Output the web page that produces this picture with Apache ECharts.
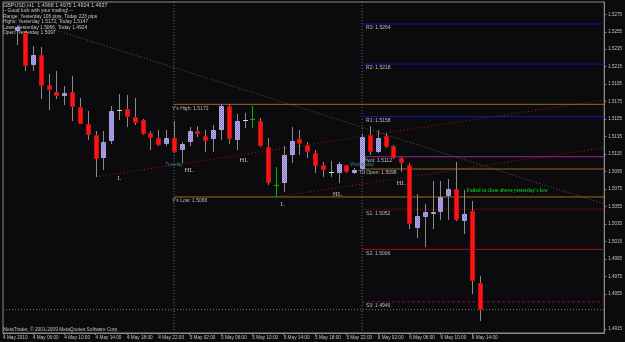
<!DOCTYPE html>
<html><head><meta charset="utf-8">
<script src="https://cdn.jsdelivr.net/npm/echarts@6/dist/echarts.min.js"></script>
<style>html,body{margin:0;padding:0;background:#0b0b0d;}#c{width:625px;height:342px;}</style>
</head><body><div id="c"></div>
<script>
// ---- DATA ----
const hours = [4,5,6,7,8,9,10,11,12,13,14,15,16,17,18,19,20,21,22,23,24,25,26,27,28,29,30,31,32,33,34,35,36,37,38,39,40,41,42,43,44,45,46,47,48,49,50,51,52,53,54,55,56,57,58,59,60,61,62,63];
const opens = [1.5256,1.5254,1.5217,1.5228,1.5194,1.5186,1.5182,1.5186,1.5169,1.5149,1.5137,1.5111,1.5130,1.5166,1.5167,1.5157,1.5154,1.5139,1.5133,1.5127,1.5134,1.5120,1.5129,1.5141,1.5136,1.5132,1.5143,1.5170,1.5131,1.5154,1.5155,1.5153,1.5123,1.5080,1.5082,1.5114,1.5132,1.5126,1.5116,1.5102,1.5095,1.5093,1.5102,1.5093,1.5098,1.5137,1.5117,1.5136,1.5124,1.5111,1.5103,1.5031,1.5043,1.5047,1.5049,1.5067,1.5075,1.5039,1.5050,1.4968];
const closes = [1.5260,1.5216,1.5228,1.5193,1.5188,1.5182,1.5185,1.5169,1.5150,1.5137,1.5110,1.5129,1.5164,1.5166,1.5157,1.5151,1.5138,1.5134,1.5126,1.5134,1.5117,1.5127,1.5141,1.5138,1.5130,1.5143,1.5170,1.5132,1.5153,1.5154,1.5155,1.5124,1.5082,1.5080,1.5114,1.5130,1.5127,1.5117,1.5101,1.5097,1.5095,1.5104,1.5094,1.5097,1.5135,1.5118,1.5134,1.5123,1.5111,1.5105,1.5035,1.5044,1.5049,1.5049,1.5066,1.5075,1.5040,1.5047,1.4970,1.4937];
const lows = [1.5240,1.5210,1.5210,1.5178,1.5166,1.5178,1.5171,1.5153,1.5149,1.5131,1.5089,1.5097,1.5127,1.5154,1.5146,1.5148,1.5137,1.5120,1.5124,1.5124,1.5116,1.5105,1.5124,1.5135,1.5117,1.5118,1.5131,1.5127,1.5120,1.5145,1.5145,1.5123,1.5080,1.5066,1.5072,1.5105,1.5114,1.5111,1.5093,1.5089,1.5089,1.5082,1.5093,1.5092,1.5096,1.5114,1.5116,1.5122,1.5110,1.5095,1.5029,1.5019,1.5009,1.5029,1.5040,1.5040,1.5039,1.5024,1.4955,1.4924];
const highs = [1.5262,1.5256,1.5239,1.5238,1.5207,1.5210,1.5193,1.5204,1.5179,1.5164,1.5141,1.5141,1.5170,1.5184,1.5183,1.5179,1.5155,1.5142,1.5143,1.5143,1.5153,1.5129,1.5146,1.5147,1.5143,1.5148,1.5172,1.5172,1.5161,1.5162,1.5170,1.5156,1.5133,1.5100,1.5124,1.5146,1.5143,1.5129,1.5120,1.5106,1.5107,1.5106,1.5103,1.5099,1.5138,1.5147,1.5143,1.5139,1.5125,1.5112,1.5105,1.5069,1.5058,1.5084,1.5084,1.5087,1.5106,1.5074,1.5061,1.4975];
const greenBars = [34, 37];

const xTickHours = [2.19,6,10,14,18,22,26,30,34,38,42,46,50,54,58,62];
const xTickLabels = ["4 May 2010","4 May 06:00","4 May 10:00","4 May 14:00","4 May 18:00","4 May 22:00","5 May 02:00","5 May 06:00","5 May 10:00","5 May 14:00","5 May 18:00","5 May 22:00","6 May 02:00","6 May 06:00","6 May 10:00","6 May 14:00"];
const yTickValues = [1.4915,1.4955,1.4975,1.4995,1.5015,1.5035,1.5055,1.5075,1.5095,1.5115,1.5135,1.5155,1.5175,1.5195,1.5215,1.5235,1.5255,1.5275];

const levelNames = ["Y's High","Y's Low","R3","R2","R1","Pivot","Td Open","S1","S2","S3"];
const levelValues = [1.5172,1.5066,1.5264,1.5218,1.5158,1.5112,1.5098,1.5052,1.5006,1.4946];
const levelStartHours = [24,24,48,48,48,48,48,48,48,48];

const separatorHours = [24, 48];
const currentPrice = 1.4937;

const trendStartHours = [8.9, 14, 37];
const trendStartPrices = [1.5257, 1.5089, 1.5066];
const trendEndHours = [78.89, 78.89, 78.89];
const trendEndPrices = [1.5058, 1.5177, 1.51225];

const markTexts = ["L","HL","HL","L","HL","HL"];
const markHours = [17.05,25.94,32.92,37.87,44.86,52.99];
const markPrices = [1.50877,1.50969,1.51083,1.50579,1.50694,1.50820];

const noteText = "Failed to close above yesterday's low";
const noteHour = 61.36, notePrice = 1.50732;

const dayNames = ["Tuesday","Wednesday"];
const dayLabelPrice = 1.51029;

const infoLines = ["GBPUSD,H1  1.4968 1.4975 1.4924 1.4937","-- Good luck with your trading! --","Range: Yesterday 106 pips, Today 223 pips","Highs: Yesterday 1.5172, Today 1.5147","Lows: Yesterday 1.5066, Today 1.4924","Open: Yesterday 1.5097"];

// ---- STYLE ----
const XMIN = 2.19, XMAX = 78.89, YMIN = 1.491035, YMAX = 1.528907;
const GRAY = '#c4c4c4';
const SANS = '"Liberation Sans", Arial, sans-serif';
const levelStyles = [
  {color:'#9a6a22', type:'solid', dx:-2},
  {color:'#9a6a22', type:'solid', dx:-2},
  {color:'#1414b4', type:'solid', dx:4},
  {color:'#1414b4', type:'solid', dx:4},
  {color:'#1414b4', type:'solid', dx:4},
  {color:'#a0209a', type:'solid', dx:1},
  {color:'#9a6a22', type:'solid', dx:-3},
  {color:'#8c0c0c', type:[1,1], dx:4},
  {color:'#a01010', type:'solid', dx:4},
  {color:'#80104a', type:[3,2], dx:4}
];
const trendStyles = [
  {color:'#5a5a5a', type:[1,2]},
  {color:'#b01414', type:[1,2.5]},
  {color:'#b01414', type:[1,2.5]}
];

const pc = document.createElement('canvas'); pc.width = 2; pc.height = 2;
const g = pc.getContext('2d');
g.fillStyle = '#8476d2'; g.fillRect(0,0,2,2);
g.fillStyle = '#bbb0f2'; g.fillRect(0,0,1,1); g.fillRect(1,1,1,1);

const candleData = hours.map((h,i)=>[h, opens[i], closes[i], lows[i], highs[i]]);

function renderCandle(params, api){
  const h = api.value(0), o = api.value(1), c = api.value(2), l = api.value(3), hi = api.value(4);
  const pO = api.coord([h,o]), pC = api.coord([h,c]), pL = api.coord([h,l]), pH = api.coord([h,hi]);
  const cx = Math.round(pO[0]);
  const isGreen = greenBars.indexOf(h) >= 0;
  const children = [];
  children.push({type:'line', shape:{x1:cx+0.5,y1:Math.round(pH[1]),x2:cx+0.5,y2:Math.round(pL[1])}, style:{stroke: isGreen?'#00b400':'#8a8a8a', lineWidth:1}});
  if (o === c) {
    const y = Math.round(pO[1]) + 0.5;
    children.push({type:'line', shape:{x1:cx-2,y1:y,x2:cx+3,y2:y}, style:{stroke: isGreen?'#00b400':'#d8d8d8', lineWidth:1}});
  } else {
    const top = Math.round(Math.min(pO[1], pC[1]));
    const bot = Math.round(Math.max(pO[1], pC[1]));
    const bear = c < o;
    children.push({type:'rect', shape:{x:cx-2+0.5, y:top+0.5, width:4, height:Math.max(bot-top-1,1)},
      style: bear ? {fill:'#ff1212', stroke:'#c01010', lineWidth:1} : {fill:{image:pc, repeat:'repeat'}, stroke:'#a8a0d8', lineWidth:1}});
  }
  return {type:'group', children};
}

const series = [];
// day separators
separatorHours.forEach(h=>{
  series.push({type:'line', data:[[h,YMIN],[h,YMAX]], symbol:'none', silent:true, z:1,
    lineStyle:{color:'#6c6c6c', width:1, type:[1,2]}});
});
// trend lines
trendStartHours.forEach((h,i)=>{
  series.push({type:'line', data:[[h,trendStartPrices[i]],[trendEndHours[i],trendEndPrices[i]]], symbol:'none', silent:true, z:2,
    lineStyle:{color:trendStyles[i].color, width:1, type:trendStyles[i].type}});
});
// level lines
levelValues.forEach((v,i)=>{
  series.push({type:'line', data:[[levelStartHours[i],v],[XMAX,v]], symbol:'none', silent:true, z:2,
    lineStyle:{color:levelStyles[i].color, width:1, type:levelStyles[i].type}});
});
// current price
series.push({type:'line', data:[[XMIN,currentPrice],[XMAX,currentPrice]], symbol:'none', silent:true, z:2,
  lineStyle:{color:'#7a7a7a', width:1, type:[1,2]},
  markLine:{symbol:'none', silent:true, lineStyle:{opacity:0}, data:[{yAxis:currentPrice}],
    label:{position:'end', distance:1, formatter:currentPrice.toFixed(4), backgroundColor:'#ffffff', color:'#000', fontSize:4.8, fontFamily:SANS, padding:[1,2,1,2]}}});
// candles
series.push({type:'custom', data:candleData, renderItem:renderCandle, encode:{x:0, y:[1,2,3,4]}, z:5, clip:false});
// level labels
series.push({type:'custom', z:6, data: levelValues.map((v,i)=>[levelStartHours[i], v, i]),
  renderItem:(p,api)=>{
    const i = api.value(2); const pt = api.coord([api.value(0), api.value(1)]);
    return {type:'text', x: pt[0] + levelStyles[i].dx, y: pt[1] + 1.5,
      style:{text: levelNames[i] + ': ' + levelValues[i].toFixed(4), fill:'#bdbdbd', font:'5px ' + SANS, align:'left', verticalAlign:'top'}};
  }});
// HL marks
series.push({type:'custom', z:6, data: markHours.map((h,i)=>[h, markPrices[i], i]),
  renderItem:(p,api)=>{
    const pt = api.coord([api.value(0), api.value(1)]);
    return {type:'text', x: pt[0], y: pt[1],
      style:{text: markTexts[api.value(2)], fill:'#b8b8b8', font:'7px "Liberation Serif", serif', align:'center', verticalAlign:'middle'}};
  }});
// day names
series.push({type:'custom', z:6, data: separatorHours.map((h,i)=>[h, dayLabelPrice, i]),
  renderItem:(p,api)=>{
    const pt = api.coord([api.value(0), api.value(1)]);
    return {type:'text', x: pt[0], y: pt[1],
      style:{text: dayNames[api.value(2)], fill:'#2f7f8f', font:'4.5px ' + SANS, align:'center', verticalAlign:'middle'}};
  }});
// note
series.push({type:'custom', z:6, data:[[noteHour, notePrice]],
  renderItem:(p,api)=>{
    const pt = api.coord([api.value(0), api.value(1)]);
    return {type:'text', x: pt[0], y: pt[1],
      style:{text: noteText, fill:'#10b010', font:'bold 5.2px "Liberation Serif", serif', align:'left', verticalAlign:'middle'}};
  }});

const graphics = infoLines.map((t,i)=>({type:'text', left:3, top: 3 + i*5.5,
  style:{text:t, fill:'#c8c8c8', font: (i===0?'5.4px ':'4.9px ') + SANS}}));
graphics.push({type:'text', left:3, top:327, style:{text:'MetaTrader, \u00a9 2001-2009 MetaQuotes Software Corp.', fill:'#c0c0c0', font:'4.8px ' + SANS}});

const chart = echarts.init(document.getElementById('c'), null, {renderer:'canvas'});
chart.setOption({
  backgroundColor:'#0b0b0d',
  animation:false,
  grid:{left:2, right:19, top:2, bottom:9, show:true, borderColor:'#8c8c8c', borderWidth:1, backgroundColor:'transparent'},
  xAxis:{type:'value', min:XMIN, max:XMAX, splitLine:{show:false},
    axisLine:{show:true, lineStyle:{color:'#8c8c8c'}},
    axisTick:{show:true, customValues:xTickHours, length:2, lineStyle:{color:'#8c8c8c'}},
    axisLabel:{customValues:xTickHours, color:GRAY, fontSize:4.7, fontFamily:SANS, align:'left', margin:2.5,
      formatter:(v)=>{ let k=0, d=1e9; xTickHours.forEach((t,i)=>{ if(Math.abs(t-v)<d){d=Math.abs(t-v);k=i;} }); return xTickLabels[k]; }}},
  yAxis:{type:'value', position:'right', min:YMIN, max:YMAX, scale:true, splitLine:{show:false},
    axisLine:{show:true, lineStyle:{color:'#8c8c8c'}},
    axisTick:{show:true, customValues:yTickValues, length:2, lineStyle:{color:'#8c8c8c'}},
    axisLabel:{customValues:yTickValues, color:GRAY, fontSize:4.5, fontFamily:SANS, align:'left', margin:4,
      formatter:(v)=>v.toFixed(4)}},
  graphic: graphics,
  series: series
});
</script></body></html>
